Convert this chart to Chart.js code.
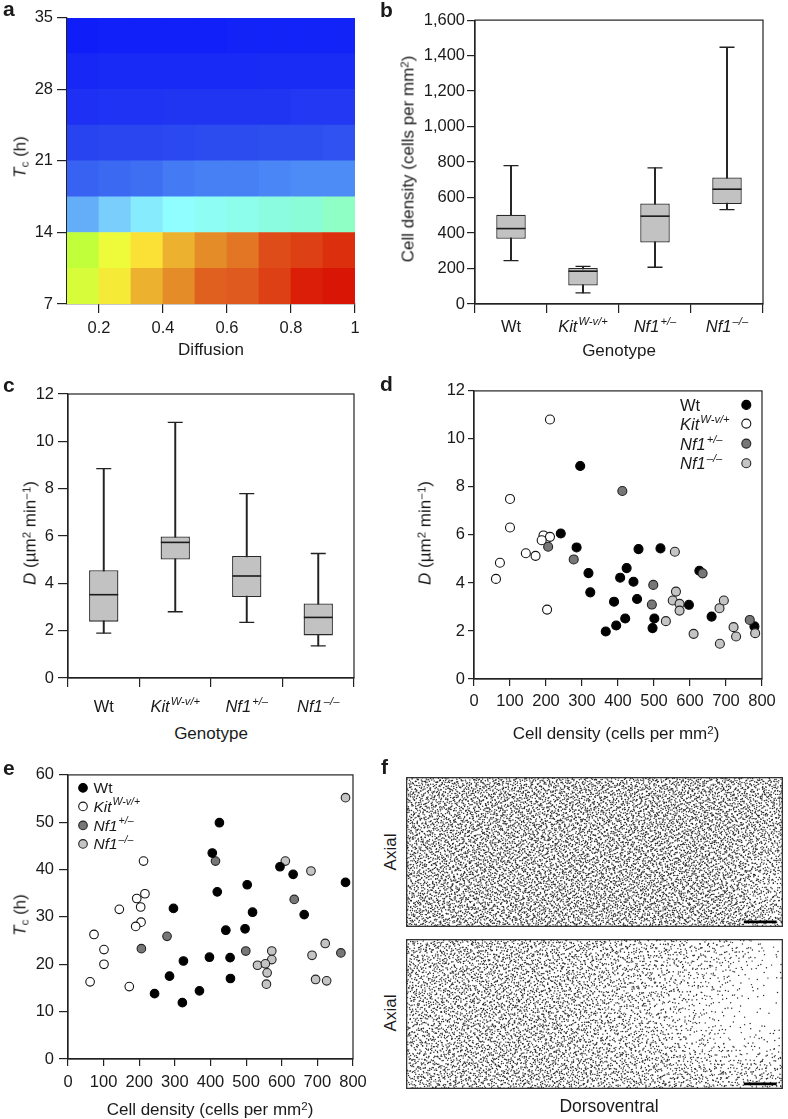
<!DOCTYPE html>
<html><head><meta charset="utf-8">
<script src="https://cdn.jsdelivr.net/npm/chart.js@4.4.1/dist/chart.umd.min.js"></script>
<style>
html,body{margin:0;padding:0;background:#fff;}
body{width:788px;height:1119px;position:relative;overflow:hidden;font-family:'Liberation Sans',Arial,Helvetica,sans-serif;color:#1a1a1a;}
canvas{position:absolute;}
.t{position:absolute;white-space:nowrap;line-height:1;}
.sup{font-size:0.68em;position:relative;top:-0.45em;}
.sub{font-size:0.68em;position:relative;top:0.22em;}
</style></head><body>
<script>
// ---------------- DATA ----------------
// a: heat map of simulated outcome (Diffusion x Tc)
const diffusionCenters = [0.15,0.25,0.35,0.45,0.55,0.65,0.75,0.85,0.95];
const tcRowEdges = [7,10.5,14,17.5,21,24.5,28,31.5,35];
const heatValues = [ // rows from 7–10.5 h (bottom) up to 31.5–35 h (top)
  [0.675,0.73,0.80,0.85,0.90,0.91,0.95,0.99,1.00],
  [0.65,0.70,0.75,0.80,0.85,0.875,0.93,0.95,0.97],
  [0.35,0.40,0.43,0.45,0.48,0.50,0.53,0.55,0.60],
  [0.23,0.24,0.25,0.27,0.28,0.28,0.29,0.30,0.30],
  [0.15,0.16,0.16,0.17,0.18,0.18,0.19,0.19,0.20],
  [0.08,0.09,0.09,0.10,0.10,0.10,0.10,0.11,0.11],
  [0.04,0.05,0.05,0.05,0.05,0.05,0.06,0.06,0.06],
  [0.00,0.01,0.01,0.01,0.01,0.02,0.02,0.02,0.02]
];
const diffusionTicks = [0.2,0.4,0.6,0.8,1];
const tcTicks = [7,14,21,28,35];

const genotypes = ['Wt','Kit^{W-v/+}','Nf1^{+/–}','Nf1^{–/–}'];
const genotypeItalic = [false,true,true,true];

// b: cell density box plots
const densityLow    = [244, 63, 207, 532];
const densityQ1     = [368,104, 347, 564];
const densityMedian = [425,185, 495, 647];
const densityQ3     = [503,203, 567, 713];
const densityHigh   = [780,212, 767,1447];

// c: diffusion coefficient box plots
const diffLow    = [1.90, 2.80, 2.35, 1.36];
const diffQ1     = [2.38, 5.01, 3.42, 1.80];
const diffMedian = [3.52, 5.73, 4.31, 2.56];
const diffQ3     = [4.55, 5.98, 5.16, 3.15];
const diffHigh   = [8.85,10.80, 7.79, 5.26];

// d: D vs cell density
const dWt = [[295,8.87],[241,6.06],[285,5.48],[318,4.41],[323,3.61],[389,3.22],[366,1.98],[395,2.23],[420,2.52],[406,4.22],[424,4.62],[443,4.05],[453,3.33],[457,5.41],[518,5.44],[501,2.52],[496,2.12],[597,3.09],[626,4.51],[660,2.60],[779,2.19]];
const dKit = [[211,10.81],[100,7.50],[100,6.31],[72,4.84],[61,4.17],[144,5.24],[171,5.13],[193,5.98],[211,5.92],[188,5.78],[203,2.89]];
const dNf1Het = [[412,7.83],[206,5.51],[277,4.98],[498,3.92],[494,3.10],[635,4.40],[766,2.46]];
const dNf1Null = [[558,5.30],[561,3.64],[552,3.27],[571,3.13],[571,2.85],[533,2.41],[610,1.88],[682,2.95],[694,3.27],[721,2.16],[728,1.77],[683,1.47],[781,1.91]];

// e: Tc vs cell density
const eWt = [[425,49.9],[405,43.5],[419,35.3],[503,36.8],[595,40.6],[632,39.0],[779,37.3],[296,31.8],[518,31.0],[663,30.5],[443,27.2],[497,27.5],[324,20.7],[397,21.5],[455,21.4],[285,17.5],[456,17.0],[243,13.8],[369,14.4],[321,11.9]];
const eKit = [[212,41.8],[216,34.9],[193,33.9],[204,32.1],[144,31.6],[205,28.9],[190,28.0],[73,26.3],[101,23.1],[101,20.0],[62,16.3],[172,15.3]];
const eNf1Het = [[414,41.8],[635,33.7],[278,25.9],[206,23.3],[499,22.8],[766,22.4]];
const eNf1Null = [[779,55.2],[610,41.8],[682,39.7],[572,22.8],[572,21.0],[532,19.8],[554,20.1],[559,18.2],[557,15.8],[722,24.4],[685,21.9],[695,16.8],[726,16.5]];

// f: relative cell density of the two simulated fields (rows top→bottom, columns dorsal→ventral)
const fTopDensity = [
  [1,1,1,1,1,1,1,1,1,1,1,0.95],
  [1,1,1,1,1,1,1,1,1,1,1,0.9],
  [0.95,1,1,1,1,1,1,1,1,1,0.95,0.8],
  [0.95,1,1,1,1,1,1,1,1,1,0.9,0.6],
  [1,1,1,1,1,1,1,1,1,1,0.95,0.75]
];
const fBottomDensity = [
  [0.75,0.8,0.8,0.8,0.75,0.7,0.65,0.55,0.5,0.4,0.3,0.1],
  [0.75,0.8,0.8,0.8,0.75,0.7,0.6,0.55,0.4,0.3,0.15,0.03],
  [0.75,0.8,0.8,0.8,0.8,0.7,0.6,0.5,0.35,0.2,0.06,0.02],
  [0.75,0.8,0.8,0.85,0.8,0.75,0.65,0.6,0.45,0.3,0.15,0.15],
  [0.8,0.85,0.85,0.85,0.85,0.8,0.75,0.7,0.65,0.6,0.5,0.55]
];
const fCandidates = 11500;
const fScaleBar = [{x:0.896,y:0.034},{x:0.983,y:0.034}];

// ---------------- STYLE ----------------
const FONT = "'Liberation Sans', Arial, Helvetica, sans-serif";
const LINE = '#222';
const LW = 1.2;
const TXT = '#1a1a1a';
const heatStops = [[0,'#0f1ef9'],[0.10,'#2035f2'],[0.20,'#2f52f0'],[0.30,'#4d8cf6'],[0.40,'#79cefc'],[0.45,'#90feff'],[0.55,'#8afcd8'],[0.60,'#8fffc6'],[0.65,'#c0ff3a'],[0.70,'#edfb3a'],[0.75,'#fbe035'],[0.80,'#ecb12f'],[0.85,'#e48c27'],[0.90,'#e06020'],[0.95,'#dd4014'],[1,'#d91505']];
function hex(h){return [1,3,5].map(i=>parseInt(h.substr(i,2),16));}
function heatColor(v){
  for(let i=1;i<heatStops.length;i++){
    if(v<=heatStops[i][0]){
      const [a,ca]=heatStops[i-1],[b,cb]=heatStops[i];const f=(v-a)/(b-a);
      const A=hex(ca),B=hex(cb);
      return 'rgb('+A.map((x,k)=>Math.round(x+(B[k]-x)*f)).join(',')+')';
    }
  }
  return heatStops[heatStops.length-1][1];
}
const genoStyle = [
  {bg:'#000000', bd:'#000000'},
  {bg:'#ffffff', bd:'#111111'},
  {bg:'#777777', bd:'#222222'},
  {bg:'#c4c4c4', bd:'#222222'}
];

Chart.defaults.font.family = FONT;
Chart.defaults.font.size = 16;
Chart.defaults.color = TXT;
Chart.defaults.animation = false;
Chart.defaults.events = [];
Chart.defaults.plugins.legend.display = false;
Chart.defaults.plugins.tooltip.enabled = false;

// ---------------- HELPERS ----------------
function makeCanvas(area,pad){
  const c=document.createElement('canvas');
  const w=area.r-area.l+pad.l+pad.r, h=area.b-area.t+pad.t+pad.b;
  c.width=w;c.height=h;
  c.style.left=(area.l-pad.l)+'px';c.style.top=(area.t-pad.t)+'px';
  c.style.width=w+'px';c.style.height=h+'px';
  document.body.appendChild(c);
  return c;
}
function linAxis(o){
  const ax={
    type:'linear',min:o.min,max:o.max,offset:false,z:1,display:true,
    grid:{drawOnChartArea:false,drawTicks:true,tickLength:o.tl,color:LINE,lineWidth:LW,offset:false},
    border:{display:true,color:LINE,width:LW},
    ticks:{stepSize:o.step,padding:o.pad,font:{size:16.5},color:TXT,maxRotation:0,autoSkip:false,callback:o.cb||(v=>v)},
    afterFit:o.fit
  };
  if(o.ticks) ax.afterBuildTicks = s=>{ s.ticks = o.ticks.map(v=>({value:v})); };
  return ax;
}
function catAxis(tl,fit){
  return {type:'category',offset:true,z:1,
    grid:{offset:true,drawOnChartArea:false,drawTicks:true,tickLength:tl,color:LINE,lineWidth:LW},
    border:{display:true,color:LINE,width:LW},
    ticks:{display:false},afterFit:fit};
}
function parseLabel(s,italic){const m=s.match(/^([^\^]*)(?:\^\{(.*)\})?$/);return {base:m[1],sup:m[2]||'',italic};}
function drawRich(ctx,lab,x,y,size,align){
  const f=sz=>(lab.italic?'italic ':'')+sz+'px '+FONT;
  ctx.save();ctx.fillStyle=TXT;ctx.textBaseline='alphabetic';ctx.textAlign='left';
  ctx.font=f(size);const wb=ctx.measureText(lab.base).width;
  const ss=size*0.68;ctx.font=f(ss);const ws=lab.sup?ctx.measureText(lab.sup).width+1:0;
  const x0=align==='center'?x-(wb+ws)/2:x;
  const base=y+size*0.36;
  ctx.font=f(size);ctx.fillText(lab.base,x0,base);
  if(lab.sup){ctx.font=f(ss);ctx.fillText(lab.sup,x0+wb+1,base-size*0.42);}
  ctx.restore();
}
const framePlugin={id:'frame',beforeDatasetsDraw(chart){
  const a=chart.chartArea,ctx=chart.ctx;ctx.save();ctx.strokeStyle=LINE;ctx.lineWidth=LW;
  ctx.strokeRect(a.left,a.top,a.right-a.left,a.bottom-a.top);ctx.restore();}};
const richTicks={id:'richTicks',afterDraw(chart,args,o){
  const sx=chart.scales.x;
  genotypes.forEach((g,i)=>drawRich(chart.ctx,parseLabel(g,genotypeItalic[i]),sx.getPixelForValue(i),chart.chartArea.bottom+o.offset,16.5,'center'));}};
const richLegend={id:'richLegend',afterDatasetsDraw(chart,args,o){
  const a=chart.chartArea,ctx=chart.ctx;
  const mx=o.side==='right'?a.right+o.markerDx:a.left+o.markerDx;
  const tx=o.side==='right'?a.right+o.textDx:a.left+o.textDx;
  genotypes.forEach((g,i)=>{
    const y=a.top+o.rows[i];const ds=chart.data.datasets[i];
    ctx.save();ctx.beginPath();ctx.arc(mx,y,o.r,0,Math.PI*2);
    ctx.fillStyle=ds.pointBackgroundColor;ctx.fill();
    ctx.lineWidth=ds.pointBorderWidth;ctx.strokeStyle=ds.pointBorderColor;ctx.stroke();ctx.restore();
    drawRich(ctx,parseLabel(g,genotypeItalic[i]),tx,y,o.size,'left');
  });}};
function txt(html,x,y,size,o={}){
  const d=document.createElement('div');d.className='t';d.innerHTML=html;
  d.style.fontSize=size+'px';d.style.left=x+'px';d.style.top=y+'px';
  if(o.bold)d.style.fontWeight='bold';
  let tr=o.left?'translate(0,-50%)':'translate(-50%,-50%)';
  if(o.rot)tr+=' rotate(-90deg)';
  d.style.transform=tr;document.body.appendChild(d);
}
function boxSets(low,q1,med,q3,high,halfW){
  return [
    {type:'bar',data:low.map((v,i)=>[v,high[i]]),backgroundColor:LINE,borderWidth:0,barThickness:1.3,grouped:false,order:3},
    {type:'bar',data:q1.map((v,i)=>[v,q3[i]]),backgroundColor:'#c2c2c2',borderColor:'#2a2a2a',borderWidth:1.3,borderSkipped:false,barPercentage:0.41,categoryPercentage:1,grouped:false,order:2},
    {type:'line',data:med,showLine:false,pointStyle:'line',pointRadius:halfW,pointBorderWidth:1.6,pointBorderColor:'#1a1a1a',order:1},
    {type:'line',data:high,showLine:false,pointStyle:'line',pointRadius:7.5,pointBorderWidth:1.3,pointBorderColor:LINE,order:1},
    {type:'line',data:low,showLine:false,pointStyle:'line',pointRadius:7.5,pointBorderWidth:1.3,pointBorderColor:LINE,order:1}
  ];
}
function scatterSets(groups,orders,r){
  return groups.map((pts,i)=>({
    data:pts.map(([x,y])=>({x,y})),
    pointRadius:r,pointBackgroundColor:genoStyle[i].bg,pointBorderColor:genoStyle[i].bd,pointBorderWidth:1.1,order:orders[i]
  }));
}
function densityAt(grid,u,v){
  const rows=grid.length,cols=grid[0].length;
  const gx=Math.min(Math.max(u*cols-0.5,0),cols-1),gy=Math.min(Math.max(v*rows-0.5,0),rows-1);
  const x0=Math.floor(gx),y0=Math.floor(gy),x1=Math.min(x0+1,cols-1),y1=Math.min(y0+1,rows-1);
  const fx=gx-x0,fy=gy-y0;
  return (grid[y0][x0]*(1-fx)+grid[y0][x1]*fx)*(1-fy)+(grid[y1][x0]*(1-fx)+grid[y1][x1]*fx)*fy;
}
// Halton low-discrepancy placement (deterministic) with small sub-spacing offsets from further Halton dimensions
function halton(i,b){let f=1,r=0;while(i>0){f/=b;r+=f*(i%b);i=Math.floor(i/b);}return r;}
function dotField(grid,n,start){
  const pts=[];
  for(let k=start;k<start+n;k++){
    let u=halton(k,2)+(halton(k,7)-0.5)*0.009, v=halton(k,3)+(halton(k,11)-0.5)*0.022;
    u=Math.min(Math.max(u,0),1);v=Math.min(Math.max(v,0),1);
    const w=halton(k,5);
    if(w<densityAt(grid,u,v))pts.push({x:u,y:1-v});
  }
  return pts;
}

// ---------------- PANEL a ----------------
(function(){
  const area={l:67,t:16,r:355,b:304},pad={l:60,t:12,r:24,b:45};
  new Chart(makeCanvas(area,pad),{
    type:'bar',
    data:{datasets:heatValues.map((row,r)=>({
      data:row.map((v,c)=>({x:diffusionCenters[c],y:[tcRowEdges[r],tcRowEdges[r+1]]})),
      backgroundColor:row.map(heatColor),borderWidth:0,barPercentage:1,categoryPercentage:1,grouped:false
    }))},
    options:{responsive:false,layout:{padding:{left:0,top:pad.t,right:pad.r,bottom:0}},
      scales:{
        x:linAxis({min:0.1,max:1,tl:9,pad:6,ticks:diffusionTicks,cb:v=>String(+(+v).toFixed(2)),fit:s=>{s.height=pad.b;}}),
        y:linAxis({min:7,max:35,tl:10,pad:4,ticks:tcTicks,fit:s=>{s.width=pad.l;}})
      }}
  });
})();

// ---------------- PANEL b ----------------
(function(){
  const area={l:475,t:16,r:763,b:304},pad={l:60,t:12,r:24,b:45};
  new Chart(makeCanvas(area,pad),{
    type:'bar',
    data:{labels:genotypes,datasets:boxSets(densityLow,densityQ1,densityMedian,densityQ3,densityHigh,14.5)},
    options:{responsive:false,layout:{padding:{left:0,top:pad.t,right:pad.r,bottom:0}},
      plugins:{richTicks:{offset:22}},
      scales:{
        x:catAxis(9,s=>{s.height=pad.b;}),
        y:linAxis({min:0,max:1600,step:200,tl:8,pad:2,cb:v=>v.toLocaleString('en-US'),fit:s=>{s.width=pad.l;}})
      }},
    plugins:[framePlugin,richTicks]
  });
})();

// ---------------- PANEL c ----------------
(function(){
  const area={l:68,t:390,r:354,b:678},pad={l:60,t:12,r:24,b:45};
  new Chart(makeCanvas(area,pad),{
    type:'bar',
    data:{labels:genotypes,datasets:boxSets(diffLow,diffQ1,diffMedian,diffQ3,diffHigh,14.4)},
    options:{responsive:false,layout:{padding:{left:0,top:pad.t,right:pad.r,bottom:0}},
      plugins:{richTicks:{offset:28}},
      scales:{
        x:catAxis(9,s=>{s.height=pad.b;}),
        y:linAxis({min:0,max:12,step:2,tl:10,pad:4,fit:s=>{s.width=pad.l;}})
      }},
    plugins:[framePlugin,richTicks]
  });
})();

// ---------------- PANEL d ----------------
(function(){
  const area={l:474,t:390,r:762,b:679},pad={l:60,t:12,r:24,b:45};
  new Chart(makeCanvas(area,pad),{
    type:'scatter',
    data:{datasets:scatterSets([dWt,dKit,dNf1Het,dNf1Null],[4,3,2,1],4.5)},
    options:{responsive:false,layout:{padding:{left:0,top:pad.t,right:pad.r,bottom:0}},
      plugins:{richLegend:{side:'right',markerDx:-15.7,textDx:-82,rows:[14,32.7,52.7,72.3],r:4.5,size:16.5}},
      scales:{
        x:linAxis({min:0,max:800,step:100,tl:7,pad:6,fit:s=>{s.height=pad.b;}}),
        y:linAxis({min:0,max:12,step:2,tl:6,pad:3,fit:s=>{s.width=pad.l;}})
      }},
    plugins:[framePlugin,richLegend]
  });
})();

// ---------------- PANEL e ----------------
(function(){
  const area={l:68,t:772,r:353,b:1059},pad={l:60,t:12,r:24,b:45};
  new Chart(makeCanvas(area,pad),{
    type:'scatter',
    data:{datasets:scatterSets([eWt,eKit,eNf1Het,eNf1Null],[1,2,3,4],4.3)},
    options:{responsive:false,layout:{padding:{left:0,top:pad.t,right:pad.r,bottom:0}},
      plugins:{richLegend:{side:'left',markerDx:15,textDx:25.5,rows:[13,31.5,50.5,69],r:4.3,size:15.5}},
      scales:{
        x:linAxis({min:0,max:800,step:100,tl:7,pad:7,fit:s=>{s.height=pad.b;}}),
        y:linAxis({min:0,max:60,step:10,tl:9,pad:5,fit:s=>{s.width=pad.l;}})
      }},
    plugins:[framePlugin,richLegend]
  });
})();

// ---------------- PANEL f ----------------
const fFrame={id:'fFrame',afterDatasetsDraw(chart){
  const a=chart.chartArea,ctx=chart.ctx;ctx.save();ctx.strokeStyle='#333';ctx.lineWidth=1.3;
  ctx.strokeRect(a.left+0.65,a.top+0.65,a.right-a.left-1.3,a.bottom-a.top-1.3);ctx.restore();}};
function fField(area,grid,start){
  const pad={l:0,t:0,r:0,b:0};
  new Chart(makeCanvas(area,pad),{
    type:'scatter',
    data:{datasets:[
      {type:'line',data:fScaleBar,borderColor:'#000',borderWidth:2.6,pointRadius:0,showLine:true,order:0},
      {data:dotField(grid,fCandidates,start),parsing:false,normalized:true,pointRadius:0.72,pointBackgroundColor:'#2a2a2a',pointBorderWidth:0,order:1}
    ]},
    options:{responsive:false,layout:{padding:0},
      scales:{x:{type:'linear',min:0,max:1,display:false},y:{type:'linear',min:0,max:1,display:false}}},
    plugins:[fFrame]
  });
}
fField({l:402,t:773,r:787,b:931},fTopDensity,1);
fField({l:402,t:935,r:787,b:1093},fBottomDensity,40001);

// ---------------- TEXT ----------------
txt('a',3,7.5,21,{bold:1,left:1});
txt('b',380,9,21,{bold:1,left:1});
txt('c',3,383.5,21,{bold:1,left:1});
txt('d',380,383,21,{bold:1,left:1});
txt('e',3,766.5,21,{bold:1,left:1});
txt('f',381,765.5,21,{bold:1,left:1});

txt('Diffusion',211,349,17);
txt('<i>T</i><span class="sub">c</span> (h)',20,157,17,{rot:1});
txt('Cell density (cells per mm<span class="sup">2</span>)',408,159,17,{rot:1});
txt('Genotype',619,350,17);
txt('<i>D</i> (µm<span class="sup">2</span> min<span class="sup">−1</span>)',30,533,17,{rot:1});
txt('Genotype',211,733,17);
txt('<i>D</i> (µm<span class="sup">2</span> min<span class="sup">−1</span>)',425,533,17,{rot:1});
txt('Cell density (cells per mm<span class="sup">2</span>)',616,733,17);
txt('<i>T</i><span class="sub">c</span> (h)',20,915,17,{rot:1});
txt('Cell density (cells per mm<span class="sup">2</span>)',210,1109,17);
txt('Axial',390,852,17,{rot:1});
txt('Axial',390,1013,17,{rot:1});
txt('Dorsoventral',609,1107,17.5);
</script>
</body></html>
